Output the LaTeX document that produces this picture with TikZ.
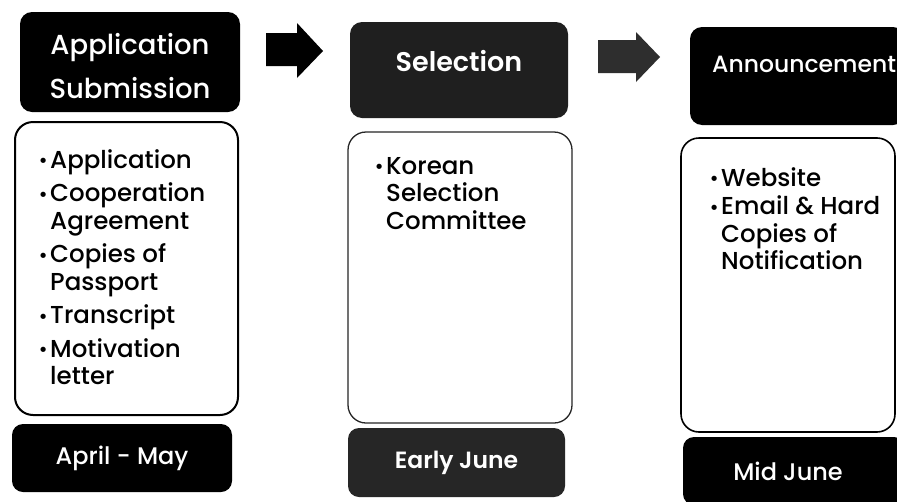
\documentclass[tikz,border=0pt]{standalone}
\usepackage{fontspec}
\setmainfont{Poppins}[UprightFont=* Medium, BoldFont=* SemiBold]
\begin{document}
\begin{tikzpicture}[x=1pt,y=-1pt,
  hdr/.style={fill=black, rounded corners=12pt, text=white, align=center, inner sep=0pt, font=\fontsize{27.5}{44}\selectfont},
  datebox/.style={fill=black, rounded corners=11pt, text=white, align=center, inner sep=0pt, font=\fontsize{24}{28}\selectfont},
  content/.style={draw=black, line width=1.6pt, rounded corners=18pt, fill=white, inner sep=0pt},
  txt/.style={anchor=north west, align=left, inner sep=0pt, font=\fontsize{24.5}{27.5}\selectfont},
  arr/.style={fill=black}
]
\useasboundingbox (0,0) rectangle (897,501);
\fill[white] (0,0) rectangle (897,501);
\newcommand\bl{\makebox[10pt][l]{\hspace*{-1.5pt}\raisebox{0.5pt}{\fontsize{20}{20}\selectfont•}}}
\newcommand\ind{\hspace*{10pt}}

% column 1
\node[hdr, minimum width=220pt, minimum height=100pt] (h1) at (130,62) {};
\node[text=white, align=center, inner sep=0pt, font=\fontsize{27.5}{44}\selectfont] (h1t) at (130,66) {Application\\Submission};
\node[content, line width=2pt, minimum width=223pt, minimum height=293pt] (c1) at (126.5,268.5) {};
\node[txt] (t1) at (40,149) {\bl Application\\[6pt]\bl Cooperation\\\ind Agreement\\[6pt]\bl Copies of\\\ind Passport\\[6pt]\bl Transcript\\[6pt]\bl Motivation\\\ind letter};
\node[datebox, minimum width=220pt, minimum height=68pt] (b1) at (122,458) {April - May};

% arrow 1
\fill[arr] (266,33) -- (297,33) -- (297,23) -- (323,51) -- (297,78) -- (297,66) -- (266,66) -- cycle;

% column 2
\node[hdr, fill=black!88, minimum width=218pt, minimum height=96pt, font=\fontsize{27}{30}\selectfont\bfseries] (h2) at (459,70) {Selection\\[-12pt]~};
\node[content, line width=1.3pt, draw=black!85, minimum width=224pt, minimum height=291pt] (c2) at (460,277.5) {};
\node[txt] (t2) at (376,157) {\bl Korean\\\ind Selection\\\ind Committee};
\node[datebox, fill=black!85, minimum width=217pt, minimum height=69pt, font=\fontsize{23.5}{28}\selectfont\bfseries] (b2) at (456.5,462.5) {Early June};

% arrow 2
\fill[arr, black!82] (598,40) -- (636,40) -- (636,32) -- (660,57) -- (636,82) -- (636,73) -- (598,73) -- cycle;

% column 3
\node[hdr, minimum width=215pt, minimum height=98pt] (h3) at (797.5,76) {};
\node[anchor=base west, text=white, inner sep=0pt, font=\fontsize{23.5}{28}\selectfont] (h3t) at (712,72) {Announcement};
\node[content, line width=1.6pt, minimum width=214pt, minimum height=294pt] (c3) at (788,285) {};
\node[txt] (t3) at (711,167) {\bl Website\\[1pt]\bl Email \& Hard\\\ind Copies of\\\ind Notification};
\node[datebox, minimum width=222pt, minimum height=68pt] (b3) at (794,471) {\hspace*{-12pt}Mid June};
\end{tikzpicture}
\end{document}
